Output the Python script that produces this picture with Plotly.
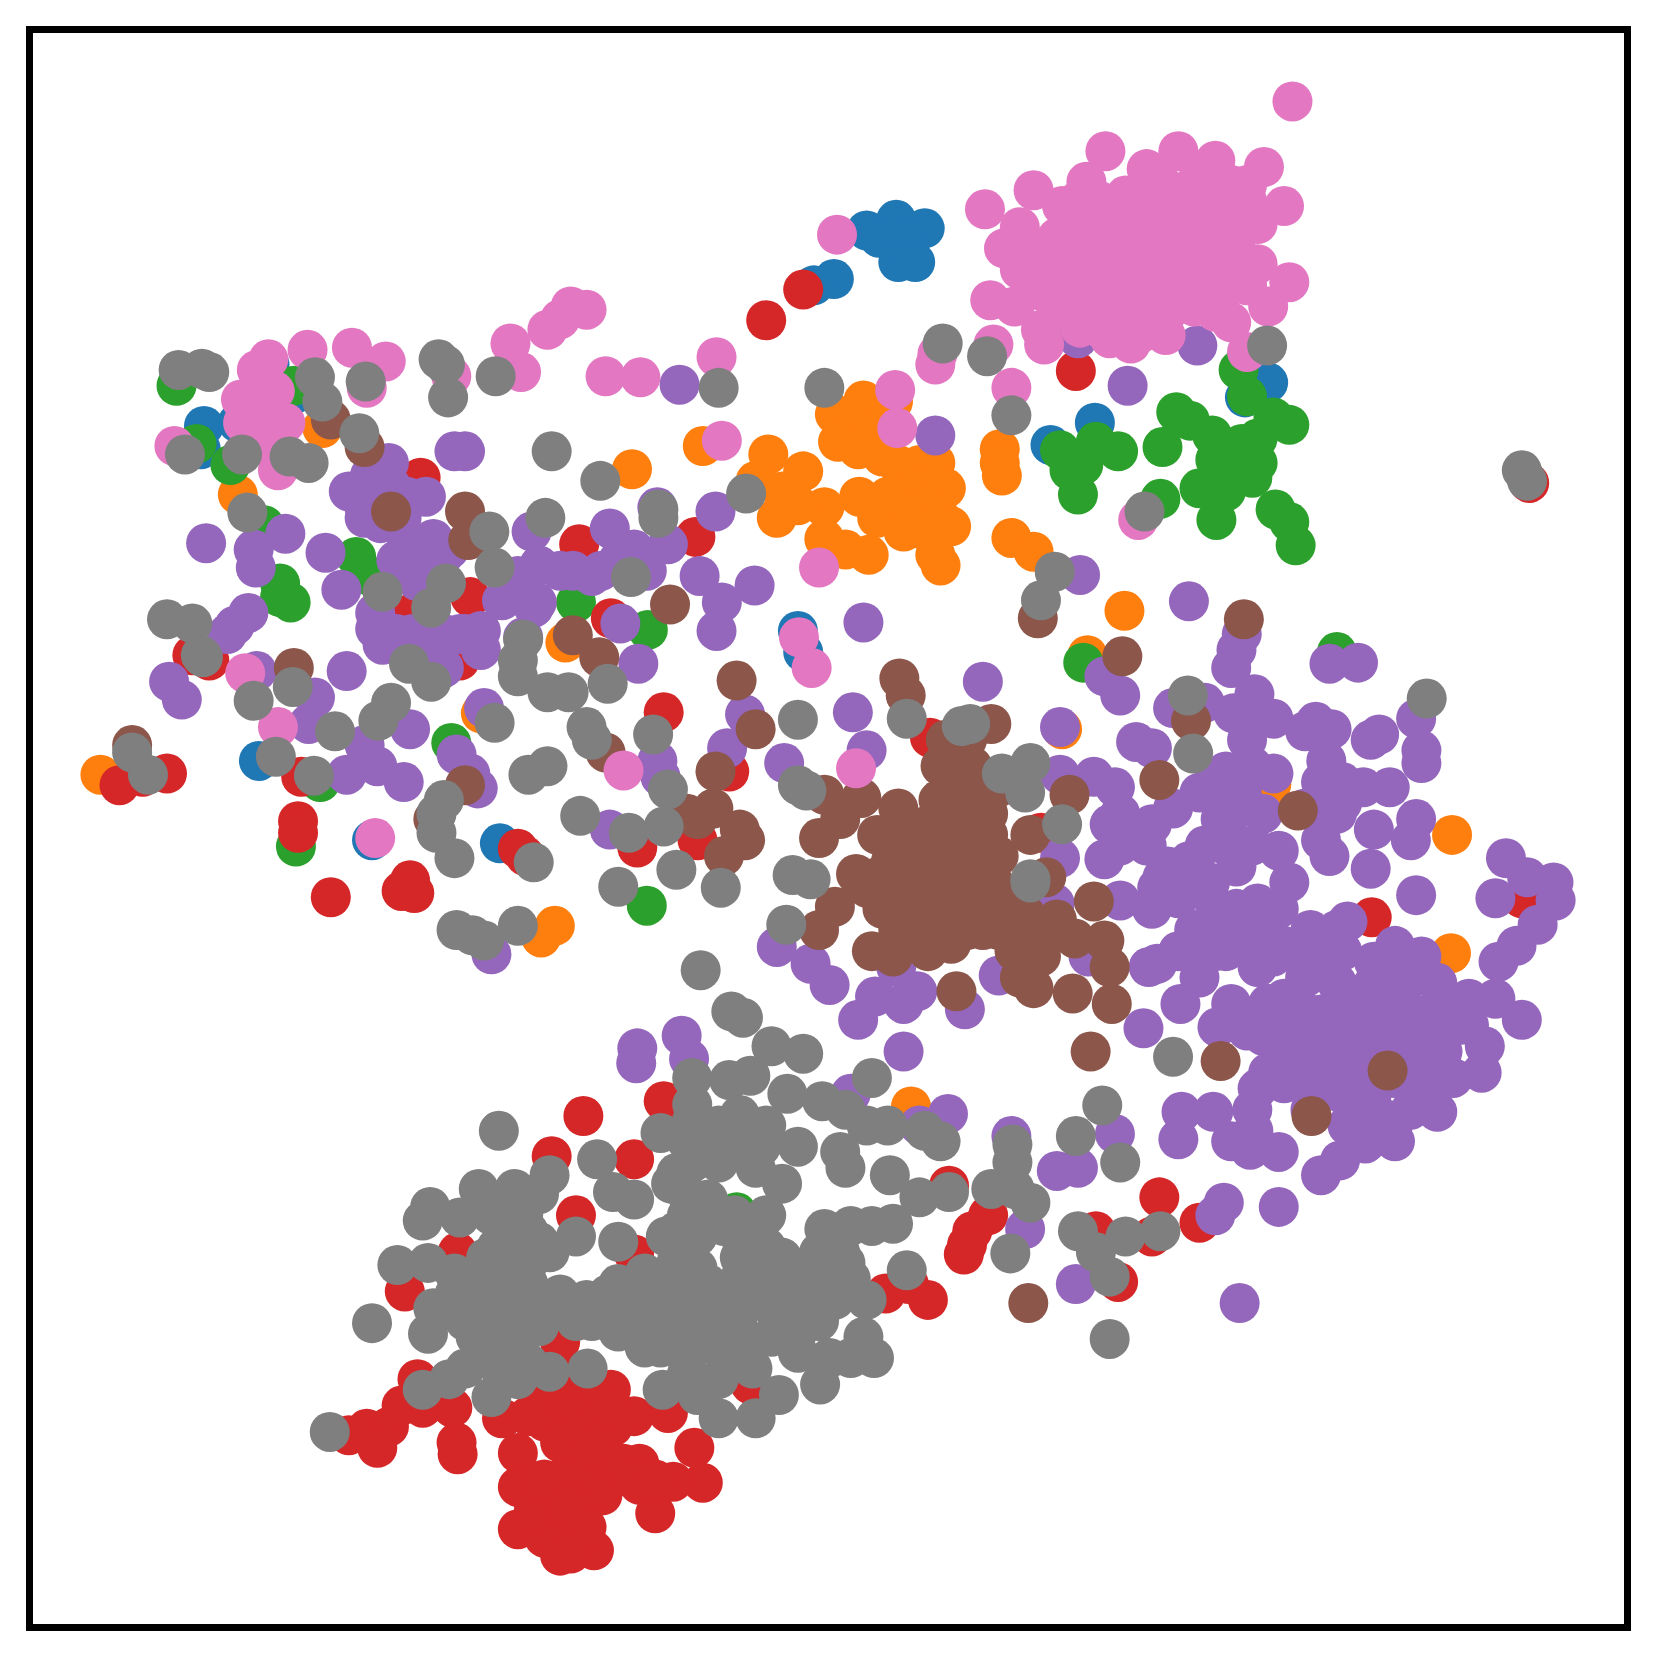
import plotly.graph_objects as go

# values, one list per class
blue = [(820,218),(848,208),(875,216),(832,225),(858,225),(850,248),(866,248),(789,264),(770,270),(193,403),(255,345),(280,372),(1036,400),(994,421),(1200,362),(1178,376),(755,597),(760,617),(245,720),(473,798),(352,795),(190,425),(225,400)]

orange = [(817,379),(845,380),(790,392),(810,400),(827,405),(793,418),(812,425),(835,432),(850,440),(870,440),(885,438),(727,430),(760,446),(715,455),(740,465),(735,490),(780,480),(813,470),(830,490),(850,470),(870,460),(895,462),(880,480),(855,503),(890,490),(900,498),(780,510),(800,520),(822,525),(890,535),(885,525),(665,422),(598,444),(946,425),(946,438),(948,450),(957,509),(978,522),(1064,578),(1029,620),(535,608),(455,675),(305,405),(225,468),(95,733),(512,887),(525,876),(862,1047),(1203,742),(1374,790),(1373,902),(1005,690),(840,470),(860,485),(870,500),(755,478)]

green = [(1113,390),(1126,398),(1147,412),(1220,402),(1205,395),(1190,415),(1175,420),(1150,435),(1170,440),(1190,438),(1100,423),(1058,427),(1037,418),(1003,426),(1012,445),(1025,440),(1020,468),(1098,472),(1135,462),(1160,465),(1185,452),(1151,492),(1207,482),(1220,494),(1226,516),(1172,350),(1180,375),(167,365),(278,365),(218,440),(186,420),(250,497),(337,527),(350,545),(265,552),(275,570),(265,565),(545,570),(613,596),(1265,617),(1025,627),(427,703),(303,740),(280,801),(612,857),(697,1147)]

red = [(725,303),(760,274),(1018,351),(1447,457),(398,452),(548,515),(658,508),(578,585),(445,565),(390,580),(182,620),(198,625),(435,625),(628,674),(113,743),(135,735),(158,732),(285,735),(282,777),(282,788),(313,849),(388,833),(380,843),(392,845),(490,803),(497,810),(603,802),(660,795),(690,730),(880,698),(985,788),(1298,868),(1440,850),(552,1056),(628,1042),(522,1094),(600,1097),(545,1150),(433,1185),(600,1187),(383,1222),(898,1122),(935,1150),(920,1165),(912,1187),(915,1178),(1097,1133),(1135,1157),(1037,1165),(1090,1170),(1058,1213),(838,1224),(878,1230),(860,1215),(395,1305),(330,1358),(347,1352),(368,1350),(357,1370),(432,1365),(433,1376),(400,1332),(428,1332),(380,1330),(475,1342),(490,1375),(515,1345),(535,1330),(555,1320),(578,1315),(600,1340),(580,1350),(632,1337),(710,1310),(530,1270),(657,1370),(665,1403),(637,1402),(620,1432),(605,1405),(605,1385),(575,1385),(545,1370),(530,1350),(510,1320),(490,1407),(510,1420),(530,1400),(555,1400),(570,1415),(550,1430),(525,1440),(490,1447),(515,1455),(530,1472),(562,1467),(540,1450),(545,1385),(520,1330),(500,1340),(540,1310),(560,1345),(505,1430),(545,1340),(565,1335),(530,1365),(560,1370),(525,1420),(515,1400),(535,1425),(555,1445),(540,1470),(590,1385),(600,1400),(620,1400),(540,1300),(520,1310),(575,1330)]

purple = [(195,514),(270,505),(240,520),(242,537),(308,523),(323,558),(235,580),(222,592),(215,600),(160,645),(172,662),(243,635),(298,660),(292,685),(328,635),(388,690),(328,733),(345,705),(357,725),(382,740),(432,714),(445,732),(452,746),(368,438),(350,450),(330,465),(345,480),(370,460),(403,470),(360,495),(385,510),(410,510),(400,530),(380,540),(425,520),(430,427),(440,427),(355,580),(355,595),(362,610),(390,600),(410,610),(420,632),(435,600),(455,597),(455,615),(475,568),(495,603),(505,575),(510,535),(503,503),(542,540),(560,545),(577,500),(585,530),(612,540),(622,480),(632,515),(677,484),(662,545),(714,554),(683,570),(678,597),(643,364),(817,589),(587,590),(604,628),(458,670),(705,676),(688,708),(622,720),(625,735),(742,722),(807,674),(820,710),(577,785),(885,412),(1067,365),(1133,327),(1020,320),(1022,544),(1125,569),(930,645),(1258,628),(1285,627),(1175,600),(1170,615),(1165,632),(1045,640),(1060,658),(1003,688),
    (360,460),(345,490),(385,470),(380,490),(390,520),(405,540),(420,525),(440,600),(375,530),(395,550),(420,600),(375,600),(530,540),(590,520),(600,520),(490,545),(508,570),(569,540),
    (735,896),(767,912),(785,932),(848,915),(828,943),(868,938),(855,950),(812,965),(913,955),(945,923),(855,995),(603,992),(602,1006),(645,980),(652,1002),(805,1035),(897,1054),(870,1065),(957,1075),(1055,1073),(1020,1105),(1000,1108),(970,1163),(1018,1215),(1173,1233),(1210,1142),(1158,1138),(1150,1150),(465,903),
    (1082,973),(1117,950),(1135,925),(1165,950),(1152,972),(1087,915),(1095,912),(1060,852),(1090,860),(1045,813),(1003,812),(998,855),(1030,905),(1050,780),(1003,733),(1035,735),(1055,745),(1075,702),(1090,708),(1110,670),(1140,665),(1167,675),(1187,657),(1205,680),(1180,700),(1185,725),(1205,732),(1160,730),(1135,750),(1110,765),(1165,770),(1195,770),(1245,683),(1260,690),(1235,692),(1255,720),(1270,740),(1290,745),(1315,745),(1297,700),(1305,695),(1340,680),(1345,710),(1345,722),(1235,765),(1265,770),(1250,795),(1258,810),(1300,785),(1340,775),(1335,795),(1297,822),(1340,847),(1425,812),(1445,830),(1470,835),(1415,850),(1472,852),(1455,875),(1435,895),(1418,910),(1440,965),(1405,990),(1402,1015),(1375,1020),(1360,1052),(1320,1080),(1292,1082),(1268,1098),(1250,1112),(1210,1090),(1183,1088),(1165,1080),(1115,1078),(1118,1052),(1148,1052),(1185,1050),(1186,1070),(1140,800),(1145,835),(1105,820),(1085,800),(1070,790),(1095,840),(1125,835),(1170,820),(1185,800),(1210,805),(1220,835),(1210,860),(1190,855),(1165,870),(1130,880),(1115,900),(1150,900),(1190,915),(1175,885),(1215,895),(1240,880),(1275,872),(1245,895),(1270,900),(1320,895),(1345,905),(1300,910),(1330,930),(1360,930),(1390,945),(1415,945),(1375,960),(1350,960),(1320,950),(1290,940),(1265,930),(1235,925),(1215,945),(1195,980),(1220,975),(1250,960),(1280,970),(1310,985),(1340,990),(1365,995),(1345,1020),(1320,1020),(1290,1010),(1260,1000),(1230,1000),(1200,1015),(1190,1030),(1215,1025),(1245,1030),(1270,1035),(1300,1050),(1335,1050),(1350,1035),(1380,970),(1290,1060),(1240,1050),(1275,1065),(1300,960),(1240,960),(1260,975),(1300,930),(1335,960),(1360,975),(1200,950),(1230,955),
    (1215,970),(1250,990),(1280,1000),(1300,1000),(1330,1000),(1310,960),(1270,950),(1330,915),(1300,1030),(1260,1020),(1320,1060),(1350,1000),(1390,970),(1230,1010),(1215,1000),(1180,975),(1205,905),(1170,860),(1150,860),(1140,880),(1195,880),(1160,900),(1125,900),(1100,830),(1115,850),(1160,800),(1125,815),(1060,800),(1090,780),(1060,770),(1155,775),(1175,750),(1150,740),(1180,680),(1270,760),(1250,740),(1240,905),(1265,880)]

brown = [(1177,586),(1062,621),(1127,682),(1097,738),(1228,767),(1035,853),(1313,1013),(1241,1056),(1155,1004),(1032,995),(1052,950),(1015,940),(905,938),(973,1233),(982,585),(370,484),(440,484),(443,511),(345,423),(313,397),(125,705),(278,632),(542,601),(567,622),(634,572),(697,644),(715,690),(677,730),(573,712),(440,743),(410,775),(851,642),(857,658),(938,685),(920,690),(895,700),(890,725),(920,725),(945,745),(1012,752),(780,752),(815,755),(850,765),(888,757),(880,780),(905,770),(935,770),(775,793),(795,775),(830,790),(895,800),(920,795),(945,810),(975,790),(810,827),(843,815),(870,825),(905,830),(940,835),(960,850),(990,830),(835,860),(865,855),(895,850),(925,860),(950,880),(985,880),(790,858),(775,880),(825,900),(845,905),(878,900),(900,893),(945,880),(985,905),(965,925),(978,935),(1017,888),(1045,890),(1050,915),(650,770),(675,765),(700,785),(705,795),(685,810),(855,870),(880,870),(915,880),(960,900),(880,840),(850,840),(910,800),(660,775),
    (905,755),(920,760),(900,785),(870,790),(850,800),(860,810),(830,830),(820,840),(850,880),(900,870),(930,880),(955,860),(970,865),(960,880),(1000,870),(975,885),(915,700),(905,730),(895,780),(925,825),(890,815),(935,790)]

pink = [(1223,96),(1046,143),(1115,143),(1150,152),(1196,158),(1085,160),(1028,172),(978,180),(1215,195),(932,198),(1005,195),(1040,190),(1065,185),(1100,175),(1130,175),(1165,175),(1180,190),(1130,195),(1100,200),(1060,205),(1030,210),(965,215),(1000,225),(1190,212),(950,235),(975,240),(1015,235),(1050,230),(1085,225),(1115,225),(1150,220),(1170,225),(965,255),(1000,260),(1040,260),(1075,250),(1110,250),(1140,245),(1190,250),(1220,267),(1165,270),(1130,270),(1095,275),(1060,280),(1025,280),(985,275),(937,284),(960,290),(1005,295),(1040,300),(1075,300),(1105,295),(1150,295),(1200,290),(985,312),(1070,325),(1103,317),(1165,305),(1180,333),(988,326),(1022,310),(1050,320),(940,326),(885,345),(887,335),(957,367),(847,369),(849,405),(683,417),(792,222),(678,338),(606,357),(573,356),(555,293),(540,290),(530,302),(518,312),(483,325),(493,352),(427,356),(365,342),(333,329),(347,367),(291,331),(254,340),(243,350),(228,378),(240,380),(260,370),(230,400),(250,395),(270,400),(240,420),(165,422),(263,445),(1077,492),(775,537),(756,603),(768,632),(232,637),(263,688),(590,729),(810,727),(355,793),
    (1020,200),(1050,210),(1080,200),(1110,190),(1140,190),(1160,200),(1150,240),(1170,250),(1130,225),(1100,225),(1060,250),(1030,250),(990,240),(980,260),(1010,270),(1050,270),(1090,250),(1120,250),(1150,265),(1180,270),(1000,290),(1040,280),(1070,270),(1100,300),(1130,290),(1040,310),(1080,315),(1020,190),(1085,180),(1140,160),(1180,175),(1160,190),(255,375),(250,395),(245,420),(262,420)]

gray = [(169,350),(191,349),(198,352),(298,357),(346,361),(415,340),(421,345),(424,376),(469,356),(305,380),(340,410),(229,430),(175,430),(274,432),(292,438),(522,427),(568,455),(234,485),(516,490),(463,503),(623,482),(623,490),(706,467),(780,367),(680,367),(892,325),(934,337),(957,393),(1199,327),(1083,484),(1440,445),(1445,455),(998,541),(985,568),(468,537),(597,546),(422,552),(362,560),(408,575),(158,586),(182,590),(190,620),(192,622),(495,605),(490,625),(490,640),(387,628),(408,645),(518,655),(538,655),(575,647),(240,663),(277,650),(370,665),(358,682),(317,692),(468,684),(555,688),(560,700),(618,695),(755,681),(858,680),(910,687),(918,685),(125,712),(140,733),(261,716),(297,734),(500,733),(518,725),(632,747),(755,743),(763,748),(948,732),(975,722),(970,750),(1129,713),(1124,658),(1350,661),(1005,780),(975,835),(975,832),(420,757),(413,770),(413,788),(430,812),(549,772),(595,788),(628,782),(505,816),(640,823),(585,839),(682,840),(750,828),(767,832),(744,875),(432,880),(447,885),(458,890),(490,876),(663,918),(692,957),(703,963),(730,990),(760,997),(825,1020),(1110,1000),(1043,1046),(1018,1075),(1060,1100),(958,1083),(958,1100),(938,1125),(960,1125),(975,1138),(1020,1165),(1065,1170),(1098,1165),(1037,1185),(1050,1208),(1050,1267),(956,1186),(858,1202),(898,1128),(870,1133),(842,1112),(890,1080),(875,1070),(840,1065),(820,1065),(800,1105),(795,1090),(778,1042),(800,1050),(755,1085),(745,1035),(710,1018),(690,1022),(655,1020),(655,1045),(625,1072),(655,1060),(680,1065),(700,1055),(725,1065),(720,1085),(680,1100),(640,1110),(715,1105),(740,1120),(565,1097),(520,1112),(472,1070),(580,1128),(600,1135),(635,1120),(670,1135),(695,1150),(725,1150),(407,1142),(400,1155),(453,1125),(487,1125),(510,1130),(435,1152),(465,1150),(495,1150),(545,1170),(585,1175),(650,1150),(630,1170),(685,1160),(780,1163),(805,1160),(825,1160),(845,1158),(376,1197),(405,1195),(430,1205),(460,1190),(490,1180),(520,1185),(710,1180),(740,1190),(775,1185),(795,1185),(410,1238),(352,1252),(405,1262),(440,1230),(470,1220),(500,1215),(530,1225),(555,1230),(585,1215),(610,1205),(640,1195),(670,1215),(700,1210),(730,1215),(760,1220),(790,1210),(820,1230),(450,1265),(480,1250),(510,1255),(545,1250),(585,1260),(620,1245),(650,1240),(680,1240),(705,1235),(745,1240),(775,1250),(625,1275),(660,1270),(712,1270),(755,1280),(785,1285),(817,1265),(827,1285),(805,1285),(440,1295),(425,1305),(400,1315),(465,1322),(490,1305),(520,1298),(556,1295),(627,1315),(650,1300),(680,1305),(712,1295),(737,1320),(776,1310),(680,1342),(715,1342),(312,1355),(660,1320),(480,1290),(590,1240),(640,1220),(770,1215),(700,1190),(470,1180),(480,1240),
    (460,1210),(480,1205),(500,1195),(510,1175),(480,1160),(500,1165),(470,1140),(495,1130),(460,1240),(490,1270),(470,1280),(510,1230),(530,1240),(560,1250),(580,1240),(600,1235),(620,1225),(640,1210),(660,1200),(650,1180),(640,1165),(660,1170),(650,1130),(655,1100),(650,1080),(670,1085),(690,1085),(700,1075),(660,1240),(690,1225),(710,1220),(720,1200),(745,1210),(760,1200),(780,1200),(800,1195),(735,1245),(755,1260),(730,1265),(700,1260),(680,1275),(650,1285),(640,1260),(610,1275),(690,1290),(660,1310),(575,1225),(605,1260),(790,1230),(760,1235),(805,1210),(790,1170),(725,1180),(700,1170),(430,1225),(440,1215),(465,1270),(440,1250),(500,1290),(475,1300)]

classes = [
    (blue, "#1f77b4"),
    (orange, "#ff7f0e"),
    (green, "#2ca02c"),
    (red, "#d62728"),
    (purple, "#9467bd"),
    (brown, "#8c564b"),
    (pink, "#e377c2"),
    (gray, "#7f7f7f"),
]

fig = go.Figure()
for pts, color in classes:
    xs, ys = zip(*pts)
    fig.add_trace(go.Scatter(x=xs, y=ys, mode="markers",
                             marker=dict(size=40, color=color, line=dict(width=0))))

axis = dict(showticklabels=False, ticks="", showgrid=False, zeroline=False,
            showline=True, mirror=True, linecolor="black", linewidth=7)

# page body adds 8px, so the figure is narrower than the window
fig.update_layout(
    width=1641, height=1641, showlegend=False,
    paper_bgcolor="white", plot_bgcolor="white",
    margin=dict(l=25, r=25, t=25, b=25),
)
fig.update_xaxes(range=[31.2, 1536.7], **axis)
fig.update_yaxes(range=[1536.7, 31.2], **axis)

fig.write_html("out.html")
